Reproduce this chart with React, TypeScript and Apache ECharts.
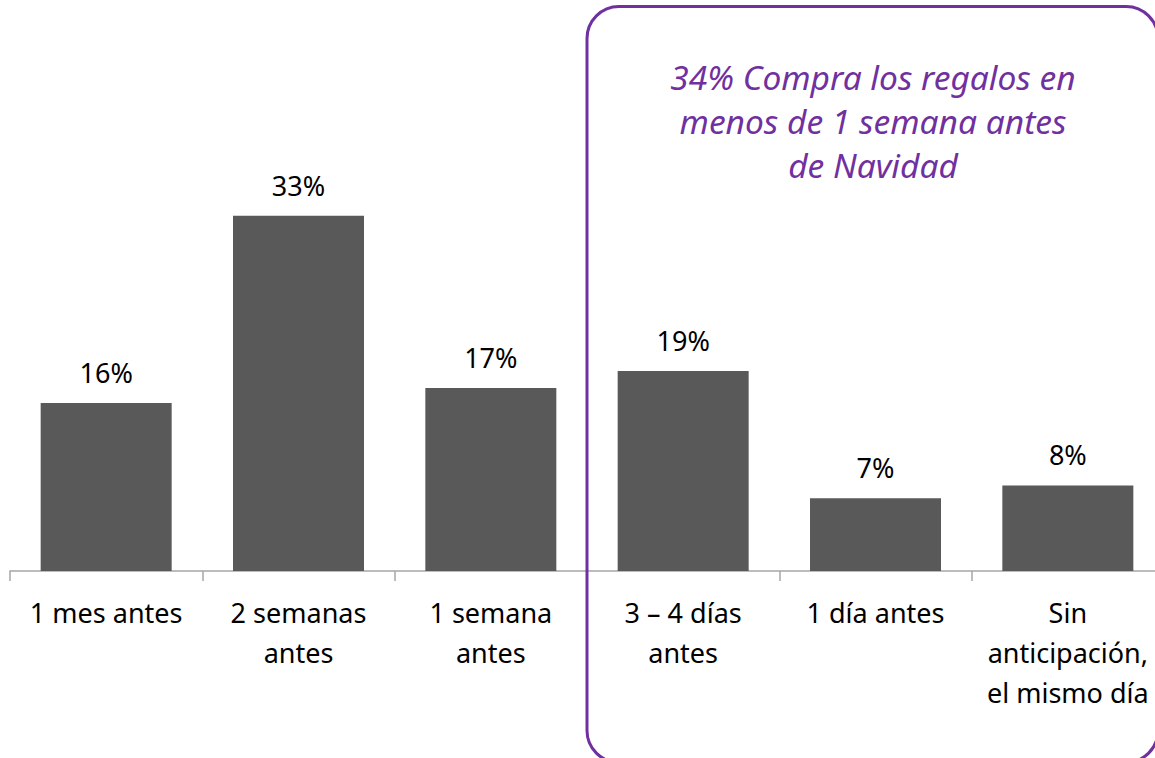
import React, { useEffect, useRef } from "react";
import * as echarts from "echarts";

const categories = [
  "1 mes antes",
  "2 semanas\nantes",
  "1 semana\nantes",
  "3 – 4 días\nantes",
  "1 día antes",
  "Sin\nanticipación,\nel mismo día",
];
const values = [15.7, 33.2, 17.1, 18.7, 6.8, 8.0];
const calloutLines = [
  "34% Compra los regalos en",
  "menos de 1 semana antes",
  "de Navidad",
];

const FONT = "'Noto Sans', 'Open Sans', sans-serif";

export default function App() {
  const ref = useRef<HTMLDivElement>(null);
  useEffect(() => {
    if (!ref.current) return;
    const chart = echarts.init(ref.current, undefined, { renderer: "svg" });
    chart.setOption({
      animation: false,
      backgroundColor: "#ffffff",
      grid: { left: 10, right: 0, top: 36, bottom: 187, containLabel: false },
      xAxis: {
        type: "category",
        data: categories,
        axisLine: { show: true, lineStyle: { color: "#A6A6A6", width: 1.5 } },
        axisTick: { show: true, length: 10, lineStyle: { color: "#A6A6A6", width: 1.5 } },
        axisLabel: {
          interval: 0,
          margin: 21,
          fontSize: 27,
          lineHeight: 40,
          color: "#000000",
          fontFamily: FONT,
          align: "center",
        },
      },
      yAxis: {
        type: "value",
        min: 0,
        max: 50,
        show: false,
        splitLine: { show: false },
      },
      series: [
        {
          type: "bar",
          data: values,
          barWidth: 131,
          itemStyle: { color: "#595959" },
          label: {
            show: true,
            position: "top",
            distance: 17,
            fontSize: 27,
            color: "#000000",
            fontFamily: FONT,
            formatter: (p: any) => Math.round(p.value) + "%",
          },
        },
      ],
      graphic: [
        {
          type: "rect",
          shape: { x: 587, y: 6.5, width: 571, height: 756, r: 32 },
          style: { fill: "none", stroke: "#7030A0", lineWidth: 3 },
          z: 10,
        },
        ...calloutLines.map((t, i) => ({
          type: "text",
          x: 873,
          y: 77 + i * 44,
          style: {
            text: t,
            fill: "#7030A0",
            font: `italic 33.5px ${FONT}`,
            align: "center",
            verticalAlign: "middle",
          },
          z: 10,
        })),
      ],
    });
    return () => chart.dispose();
  }, []);
  return (
    <div
      style={{
        position: "fixed",
        left: 0,
        top: 0,
        width: 1155,
        height: 758,
        overflow: "hidden",
      }}
    >
      <div ref={ref} style={{ width: 1164, height: 758 }} />
    </div>
  );
}
